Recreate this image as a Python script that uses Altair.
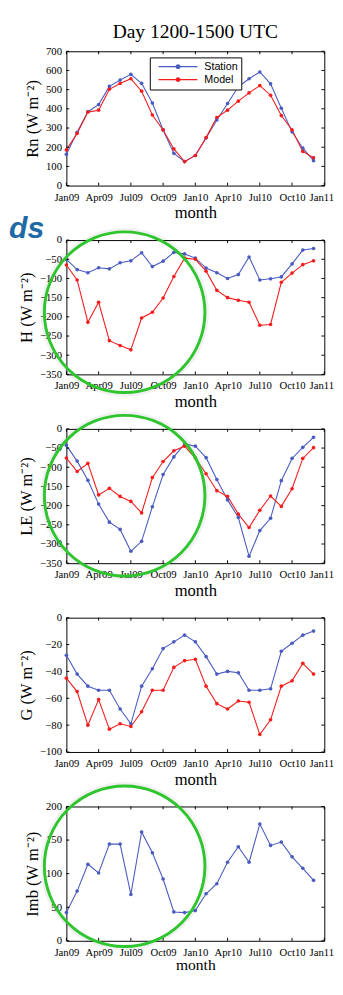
import altair as alt
import pandas as pd

# ---------------- data ----------------
months = list(range(24))  # Jan09 .. Dec10
tick_months = [0, 3, 6, 9, 12, 15, 18, 21, 24]
tick_labels = ["Jan09", "Apr09", "Jul09", "Oct09", "Jan10", "Apr10", "Jul10", "Oct10", "Jan11"]
series_names = ["Station", "Model"]

rn_station = [163, 278, 385, 422, 517, 550, 580, 533, 430, 290, 168, 125,
              157, 248, 342, 428, 515, 557, 592, 530, 403, 280, 195, 130]
rn_model = [186, 272, 383, 393, 502, 532, 557, 492, 368, 290, 191, 125,
            157, 250, 355, 393, 440, 483, 521, 471, 365, 290, 178, 145]

h_station = [-50, -77, -85, -72, -75, -59, -54, -33, -69, -55, -32, -36,
             -47, -73, -85, -100, -90, -44, -104, -101, -96, -62, -26, -22]
h_model = [-65, -104, -214, -162, -262, -275, -286, -203, -188, -151, -95, -47,
           -50, -81, -131, -150, -157, -162, -222, -220, -110, -86, -64, -54]

le_station = [-43, -84, -134, -196, -243, -262, -319, -293, -203, -119, -73, -39,
              -45, -75, -132, -185, -231, -332, -265, -233, -135, -77, -48, -22]
le_model = [-76, -111, -90, -172, -155, -176, -189, -219, -127, -85, -57, -45,
            -76, -117, -161, -176, -222, -257, -212, -175, -202, -156, -77, -49]

g_station = [-28, -42, -51, -54, -54, -68, -79, -51, -38, -23, -18, -13,
             -18, -29, -42, -40, -41, -54, -54, -53, -25, -19, -13, -10]
g_model = [-45, -55, -80, -61, -83, -79, -81, -70, -54, -54, -37, -32,
           -31, -51, -64, -68, -62, -63, -87, -76, -51, -47, -34, -42]

imb_station = [42, 74, 114, 101, 144, 144, 69, 162, 131, 92, 43, 42,
               45, 70, 85, 117, 140, 117, 174, 142, 147, 125, 108, 90]

rn_yticks = [0, 100, 200, 300, 400, 500, 600, 700]
h_yticks = [0, -50, -100, -150, -200, -250, -300, -350]
le_yticks = [0, -50, -100, -150, -200, -250, -300, -350]
g_yticks = [0, -20, -40, -60, -80, -100]
imb_yticks = [0, 50, 100, 150, 200]

# annotation rings (centre in data units)
ring_h = {"month": [5.42], "value": [-188]}
ring_le = {"month": [5.42], "value": [-174]}
ring_imb = {"month": [5.42], "value": [111]}

# ---------------- style ----------------
BLUE = "#4a5bc0"
RED = "#f41c1c"
GREEN = "#2ec52e"
W, H = 265, 138
SERIF = "Liberation Serif"
SANS = "Liberation Sans"
RING_SIZE = 165 * 165

label_expr = "[" + ",".join("'%s'" % t for t in tick_labels) + "][round(datum.value/3)]"

LEG_PATH = ("M-0.79,0L0.79,0M-0.075,0A0.075,0.075,0,1,1,0.075,0"
            "A0.075,0.075,0,1,1,-0.075,0Z")


def long_df(station, model=None):
    rows = [{"month": m, "value": v, "series": "Station"} for m, v in zip(months, station)]
    if model is not None:
        rows += [{"month": m, "value": v, "series": "Model"} for m, v in zip(months, model)]
    return pd.DataFrame(rows)


def panel(df, ytitle, ydom, yticks, legend=False, ring=None, extra=None, title=None,
          xlab_pad=6, xtitle_pad=3, xtitle_size=17):
    xscale = alt.Scale(domain=[0, 24], nice=False, zero=False)
    yscale = alt.Scale(domain=ydom, nice=False, zero=False)
    xaxis = alt.Axis(values=tick_months, labelExpr=label_expr, ticks=False, tickSize=0,
                     domain=False, grid=False, labelFont=SERIF, labelFontSize=11,
                     labelColor="black", labelPadding=xlab_pad, labelOverlap=False,
                     labelFlush=False,
                     labelOffset={"condition": {"test": "datum.value == 24", "value": -3},
                                  "value": 0},
                     title="month", titleFont=SERIF, titleFontSize=xtitle_size,
                     titleFontWeight="normal", titleColor="black", titlePadding=xtitle_pad)
    yaxis = alt.Axis(values=yticks, ticks=False, tickSize=0, domain=False, grid=False,
                     labelFont=SERIF, labelFontSize=11, labelColor="black", labelPadding=5,
                     labelOverlap=False, labelFlush=False, title=ytitle, titleFont=SERIF,
                     titleFontSize=17, titleFontWeight="normal", titleColor="black",
                     titlePadding=4)
    X = lambda: alt.X("month:Q", scale=xscale, axis=xaxis)
    Y = lambda: alt.Y("value:Q", scale=yscale, axis=yaxis)
    if legend:
        leg = alt.Legend(orient="none", legendX=85.7, legendY=6.3, direction="vertical",
                         strokeColor="black", fillColor="white", padding=3,
                         symbolType=LEG_PATH, symbolSize=2560, symbolStrokeWidth=1.2,
                         clipHeight=13, rowPadding=0.3, labelOffset=1, labelFont=SANS,
                         labelFontSize=11, labelColor="black")
    else:
        leg = None
    cscale_s = alt.Scale(domain=series_names, range=[BLUE, RED])
    cscale_f = alt.Scale(domain=series_names, range=[BLUE, RED])

    line = alt.Chart(df).mark_line(strokeWidth=1.1).encode(
        x=X(), y=Y(),
        stroke=alt.Stroke("series:N", scale=cscale_s, legend=leg, title=None),
    )
    pts = alt.Chart(df).mark_circle(size=14, opacity=1).encode(
        x=X(), y=Y(),
        fill=alt.Fill("series:N", scale=cscale_f, legend=leg, title=None),
    )
    ydf = pd.DataFrame({"value": yticks})
    xdf = pd.DataFrame({"month": tick_months})
    yl = alt.Chart(ydf).mark_rule(color="black", strokeWidth=1).encode(
        y=Y(), x=alt.value(0), x2=alt.value(3))
    yr = alt.Chart(ydf).mark_rule(color="black", strokeWidth=1).encode(
        y=Y(), x=alt.value(W - 3), x2=alt.value(W))
    xb = alt.Chart(xdf).mark_rule(color="black", strokeWidth=1).encode(
        x=X(), y=alt.value(H - 3), y2=alt.value(H))
    xt = alt.Chart(xdf).mark_rule(color="black", strokeWidth=1).encode(
        x=X(), y=alt.value(0), y2=alt.value(3))

    layers = [line, pts, yl, yr, xb, xt]
    if ring is not None:
        rdf = pd.DataFrame(ring)
        shadow = alt.Chart(rdf).mark_point(shape="circle", filled=False, size=(168) ** 2,
                                           color="#000000", strokeWidth=5, opacity=0.05).encode(
            x=X(), y=Y())
        rg = alt.Chart(rdf).mark_point(shape="circle", filled=False, size=RING_SIZE,
                                       color=GREEN, strokeWidth=3, opacity=1).encode(
            x=X(), y=Y())
        layers += [shadow, rg]
    if extra is not None:
        layers.append(extra)
    ch = alt.layer(*layers).properties(width=W, height=H)
    if title is not None:
        ch = ch.properties(title=alt.TitleParams(title, font=SERIF, fontSize=20,
                                                 fontWeight="normal", color="black",
                                                 anchor="middle", frame="group",
                                                 baseline="top", offset=4))
    return ch


ds_text = alt.Chart(pd.DataFrame({"t": ["ds"]})).mark_text(
    font=SANS, fontSize=31, fontWeight="bold", fontStyle="italic", color="#1f6aa5",
    align="left", baseline="alphabetic").encode(
    text="t:N", x=alt.value(-59), y=alt.value(-2))

p1 = panel(long_df(rn_station, rn_model), "Rn (W m⁻²)", [0, 700], rn_yticks,
           legend=True, title="Day 1200-1500 UTC")
p2 = panel(long_df(h_station, h_model), "H (W m⁻²)", [-350, 0], h_yticks,
           ring=ring_h, extra=ds_text)
p3 = panel(long_df(le_station, le_model), "LE (W m⁻²)", [-350, 0], le_yticks, ring=ring_le)
p4 = panel(long_df(g_station, g_model), "G (W m⁻²)", [-100, 0], g_yticks)
p5 = panel(long_df(imb_station), "Imb (W m⁻²)", [0, 200], imb_yticks, ring=ring_imb,
           xlab_pad=6, xtitle_pad=0, xtitle_size=16)

chart = alt.vconcat(p1, p2, p3, p4, p5, spacing=56, bounds="flush").resolve_scale(
    x="independent", y="independent", stroke="independent", fill="independent"
).resolve_legend(stroke="independent", fill="independent").properties(
    padding=0
).configure_view(stroke="black", strokeWidth=1)

chart.save("out.html", embed_options={"renderer": "svg", "actions": False})
